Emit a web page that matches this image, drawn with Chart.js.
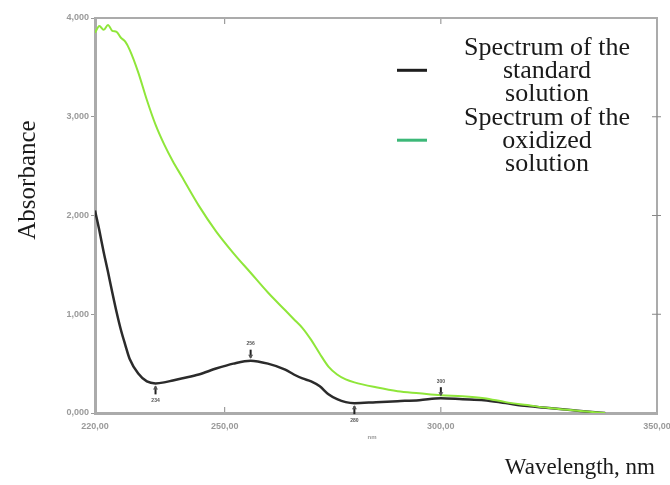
<!DOCTYPE html>
<html>
<head>
<meta charset="utf-8">
<title>Absorbance spectra</title>
<script src="https://cdn.jsdelivr.net/npm/chart.js@4.4.1/dist/chart.umd.min.js"></script>
<style>
  body { margin: 0; background: #fff; }
  #spectrum { display: block; }
</style>
</head>
<body>
<canvas id="spectrum" width="670" height="485"></canvas>
<script>
// wavelength grid, nm
var wavelengths = [220, 221, 222, 223, 224, 225, 226, 227, 228, 230, 232, 234, 236, 238, 240,
    244, 248, 252, 256, 260, 264, 266, 268, 270, 272, 274, 276, 278, 280,
    285, 290, 295, 300, 305, 310, 315, 320, 325, 330, 335, 338];

// absorbance of the standard solution
var standardAbs = [2.05, 1.85, 1.63, 1.43, 1.22, 1.02, 0.84, 0.69, 0.55, 0.40, 0.32, 0.30, 0.31, 0.33, 0.35,
    0.39, 0.45, 0.50, 0.53, 0.50, 0.44, 0.39, 0.35, 0.32, 0.27, 0.19, 0.14, 0.11, 0.10,
    0.11, 0.12, 0.13, 0.15, 0.14, 0.13, 0.10, 0.07, 0.05, 0.03, 0.01, 0.00];

// absorbance of the oxidized solution
var oxidizedAbs = [3.85, 3.92, 3.88, 3.93, 3.87, 3.86, 3.80, 3.76, 3.68, 3.45, 3.17, 2.92, 2.72, 2.55, 2.40,
    2.10, 1.84, 1.62, 1.42, 1.22, 1.04, 0.95, 0.86, 0.74, 0.60, 0.47, 0.39, 0.34, 0.31,
    0.26, 0.22, 0.20, 0.18, 0.17, 0.15, 0.11, 0.08, 0.05, 0.03, 0.01, 0.00];

var xTickValues = [220, 250, 300, 350];
var yTickValues = [0, 1, 2, 3, 4];

var seriesNames = [
    ['Spectrum of the', 'standard', 'solution'],
    ['Spectrum of the', 'oxidized', 'solution']
];
var lineColors = ['#2b2b2b', '#8fe63a'];
var legendColors = ['#1e1e1e', '#3cb878'];

// peak-pick markers on the standard spectrum
var peakNm = [234, 256, 280, 300];
var peakSide = ['below', 'above', 'below', 'above'];

function toPoints(values) {
    return wavelengths.map(function (w, i) { return { x: w, y: values[i] }; });
}

// frame, small tick marks, peak arrows, legend and axis titles
var decorations = {
    id: 'decorations',
    afterDraw: function (chart) {
        var ctx = chart.ctx;
        var area = chart.chartArea;
        var xs = chart.scales.x;
        var ys = chart.scales.y;
        ctx.save();

        // top and right edges of the frame
        ctx.strokeStyle = '#ababab';
        ctx.lineWidth = 2;
        ctx.beginPath();
        ctx.moveTo(area.left, area.top);
        ctx.lineTo(area.right, area.top);
        ctx.lineTo(area.right, area.bottom);
        ctx.stroke();

        // inner tick marks
        ctx.lineWidth = 1;
        ctx.strokeStyle = '#888';
        xTickValues.slice(1, -1).forEach(function (v) {
            var px = xs.getPixelForValue(v);
            ctx.beginPath();
            ctx.moveTo(px, area.bottom - 6);
            ctx.lineTo(px, area.bottom - 1);
            ctx.moveTo(px, area.top + 1);
            ctx.lineTo(px, area.top + 6);
            ctx.stroke();
        });
        yTickValues.slice(1, -1).forEach(function (v) {
            var py = ys.getPixelForValue(v);
            ctx.beginPath();
            ctx.moveTo(area.right - 5, py);
            ctx.lineTo(area.right + 4, py);
            ctx.stroke();
        });

        // peak arrows
        ctx.fillStyle = '#555';
        ctx.strokeStyle = '#222';
        ctx.lineWidth = 2;
        ctx.font = 'bold 5px "Liberation Sans"';
        ctx.textAlign = 'center';
        ctx.textBaseline = 'middle';
        peakNm.forEach(function (nm, k) {
            var i = wavelengths.indexOf(nm);
            var px = xs.getPixelForValue(nm);
            var py = ys.getPixelForValue(standardAbs[i]);
            var dir = peakSide[k] === 'above' ? -1 : 1;
            ctx.beginPath();
            ctx.moveTo(px, py + dir * 3);
            ctx.lineTo(px, py + dir * 11);
            ctx.stroke();
            ctx.beginPath();
            ctx.moveTo(px, py + dir * 2);
            ctx.lineTo(px - 2.5, py + dir * 6);
            ctx.lineTo(px + 2.5, py + dir * 6);
            ctx.closePath();
            ctx.fill();
            ctx.fillText(String(nm), px, py + dir * 17);
        });

        // unit under the wavelength axis
        ctx.fillStyle = '#999';
        ctx.font = 'bold 6px "Liberation Sans"';
        ctx.fillText('nm', (area.left + area.right) / 2 - 4, area.bottom + 24);

        // legend
        var textX = area.right - 110;
        var lineGap = 23.3;
        ctx.font = '26px "Liberation Serif"';
        ctx.fillStyle = '#1a1a1a';
        seriesNames.forEach(function (lines, k) {
            var y0 = area.top + 30 + k * 3 * lineGap;
            lines.forEach(function (t, j) {
                ctx.fillText(t, textX, y0 + j * lineGap);
            });
            ctx.strokeStyle = legendColors[k];
            ctx.lineWidth = 3;
            ctx.beginPath();
            ctx.moveTo(area.right - 260, y0 + lineGap - 1);
            ctx.lineTo(area.right - 230, y0 + lineGap - 1);
            ctx.stroke();
        });

        // axis titles
        ctx.fillStyle = '#1a1a1a';
        ctx.font = '25px "Liberation Serif"';
        ctx.save();
        ctx.translate(28, 180);
        ctx.rotate(-Math.PI / 2);
        ctx.fillText('Absorbance', 0, 0);
        ctx.restore();
        ctx.font = '23px "Liberation Serif"';
        ctx.textAlign = 'right';
        ctx.fillText('Wavelength, nm', area.right - 2, 468);

        ctx.restore();
    }
};

var ctx = document.getElementById('spectrum').getContext('2d');
var chart = new Chart(ctx, {
    type: 'line',
    data: {
        datasets: [
            {
                label: seriesNames[0].join(' '),
                data: toPoints(standardAbs),
                borderColor: lineColors[0],
                borderWidth: 2.5,
                pointRadius: 0,
                cubicInterpolationMode: 'monotone',
                order: 1
            },
            {
                label: seriesNames[1].join(' '),
                data: toPoints(oxidizedAbs),
                borderColor: lineColors[1],
                borderWidth: 2,
                pointRadius: 0,
                cubicInterpolationMode: 'monotone',
                order: 0
            }
        ]
    },
    options: {
        responsive: false,
        animation: false,
        layout: { padding: { top: 18, right: 13, left: 0, bottom: 0 } },
        plugins: { legend: { display: false }, tooltip: { enabled: false } },
        scales: {
            x: {
                type: 'linear',
                min: 220,
                max: 350,
                afterBuildTicks: function (s) { s.ticks = xTickValues.map(function (v) { return { value: v }; }); },
                afterFit: function (s) { s.height = 72; s.paddingLeft = 0; s.paddingRight = 0; },
                grid: { display: true, drawOnChartArea: false, drawTicks: false },
                border: { color: '#ababab', width: 3 },
                ticks: {
                    font: { family: 'Liberation Sans', size: 9, weight: 'bold' },
                    color: '#9a9a9a',
                    maxRotation: 0,
                    padding: 8,
                    callback: function (v) { return v.toFixed(2).replace('.', ','); }
                }
            },
            y: {
                min: 0,
                max: 4,
                afterBuildTicks: function (s) { s.ticks = yTickValues.map(function (v) { return { value: v }; }); },
                afterFit: function (s) { s.width = 95; s.paddingTop = 0; s.paddingBottom = 0; },
                grid: { display: true, drawOnChartArea: false, tickLength: 4, color: '#999' },
                border: { color: '#ababab', width: 3 },
                ticks: {
                    font: { family: 'Liberation Sans', size: 9, weight: 'bold' },
                    color: '#9a9a9a',
                    padding: 2,
                    callback: function (v) { return v.toFixed(3).replace('.', ','); }
                }
            }
        }
    },
    plugins: [decorations]
});
</script>
</body>
</html>
